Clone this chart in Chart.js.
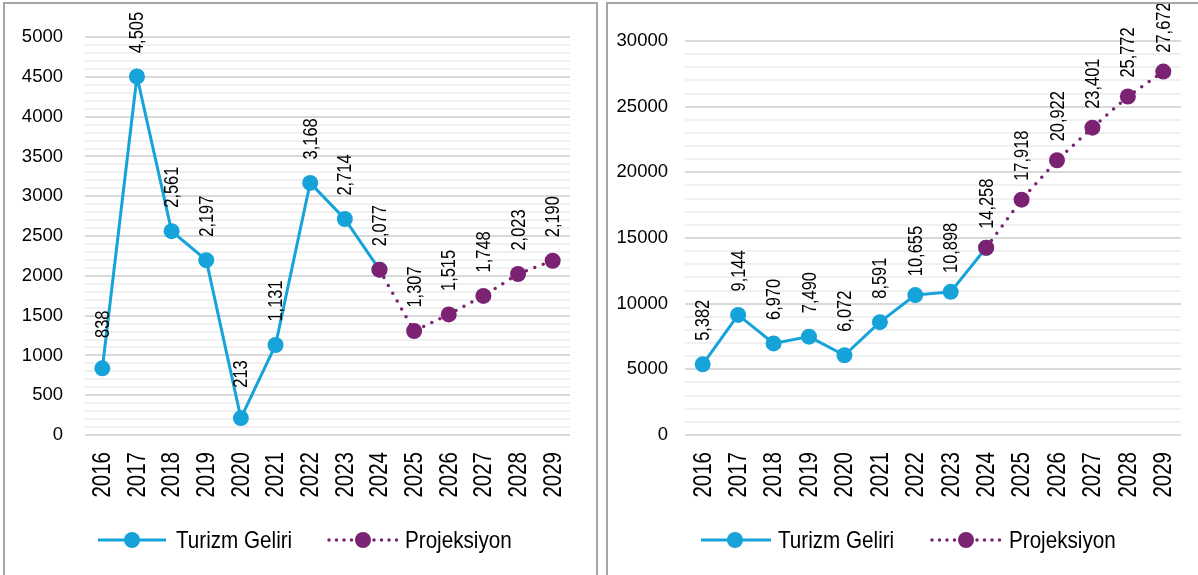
<!DOCTYPE html>
<html>
<head>
<meta charset="utf-8">
<script src="https://cdn.jsdelivr.net/npm/chart.js@4.4.1/dist/chart.umd.min.js"></script>
<style>
  html,body{margin:0;padding:0;background:#fff;width:1198px;height:575px;overflow:hidden;position:relative;}
  .panel{position:absolute;border:2px solid #a6a6a6;box-sizing:border-box;}
  .cv{position:absolute;}
  .lg{position:absolute;font-family:"Liberation Sans",Arial,sans-serif;font-size:24px;color:#000;line-height:24px;white-space:nowrap;transform:scaleX(0.86);transform-origin:0 50%;}
  svg.sym{position:absolute;overflow:visible;}
</style>
</head>
<body>
<div class="panel" style="left:3px;top:2px;width:595px;height:600px;"></div>
<div class="panel" style="left:606px;top:2px;width:620px;height:600px;"></div>
<div class="cv" style="left:5px;top:4px;width:590px;height:500px;"><canvas id="c1" width="590" height="500"></canvas></div>
<div class="cv" style="left:610px;top:4px;width:588px;height:500px;"><canvas id="c2" width="588" height="500"></canvas></div>

<svg class="sym" style="left:0;top:0" width="1198" height="575">
  <line x1="98" y1="540" x2="166" y2="540" stroke="#16a3d9" stroke-width="3"/>
  <circle cx="132" cy="540" r="8" fill="#16a3d9"/>
  <line x1="329" y1="540" x2="397" y2="540" stroke="#7b2372" stroke-width="3.5" stroke-linecap="round" stroke-dasharray="0 7.5"/>
  <circle cx="363" cy="540" r="8" fill="#7b2372"/>
  <line x1="701" y1="540" x2="771" y2="540" stroke="#16a3d9" stroke-width="3"/>
  <circle cx="735" cy="540" r="8" fill="#16a3d9"/>
  <line x1="932" y1="540" x2="1000" y2="540" stroke="#7b2372" stroke-width="3.5" stroke-linecap="round" stroke-dasharray="0 7.5"/>
  <circle cx="966" cy="540" r="8" fill="#7b2372"/>
</svg>
<div class="lg" style="left:176px;top:528px;">Turizm Geliri</div>
<div class="lg" style="left:405px;top:528px;">Projeksiyon</div>
<div class="lg" style="left:778px;top:528px;">Turizm Geliri</div>
<div class="lg" style="left:1009px;top:528px;">Projeksiyon</div>

<script>
const years = ['2016','2017','2018','2019','2020','2021','2022','2023','2024','2025','2026','2027','2028','2029'];
const seriesNames = ['Turizm Geliri','Projeksiyon'];

const leftIncome     = [838, 4505, 2561, 2197, 213, 1131, 3168, 2714, 2077, null, null, null, null, null];
const leftProjection = [null, null, null, null, null, null, null, null, 2077, 1307, 1515, 1748, 2023, 2190];

const rightIncome     = [5382, 9144, 6970, 7490, 6072, 8591, 10655, 10898, 14258, null, null, null, null, null];
const rightProjection = [null, null, null, null, null, null, null, null, 14258, 17918, 20922, 23401, 25772, 27672];

const leftAxis  = {max: 5000, minorStep: 100, majorStep: 500};
const rightAxis = {max: 30000, minorStep: 1000, majorStep: 5000};

const BLUE = '#16a3d9', PURPLE = '#7b2372';
const SANS = '"Liberation Sans",Arial,sans-serif';
const NARROW_X = 0.82;

function narrowText(ctx, text, x, y, size, align) {
  // rotated text (reading upward), horizontally condensed along the text direction
  ctx.save();
  ctx.translate(x, y);
  ctx.rotate(-Math.PI / 2);
  ctx.scale(NARROW_X, 1);
  ctx.font = size + 'px ' + SANS;
  ctx.textAlign = align;
  ctx.textBaseline = 'middle';
  ctx.fillText(text, 0, 0);
  ctx.restore();
}

const labelPlugin = {
  id: 'rotLabels',
  afterDatasetsDraw(chart) {
    const ctx = chart.ctx;
    ctx.save();
    ctx.fillStyle = '#000';
    chart.data.datasets.forEach((ds, di) => {
      const meta = chart.getDatasetMeta(di);
      meta.data.forEach((pt, i) => {
        const v = ds.data[i];
        if (v === null || v === undefined) return;
        if (ds.skipLabel && ds.skipLabel.includes(i)) return;
        narrowText(ctx, v.toLocaleString('en-US'), pt.x + 1, pt.y - 44, 20, 'center');
      });
    });
    // category labels
    const xs = chart.scales.x;
    chart.data.labels.forEach((lab, i) => {
      const px = xs.getPixelForTick(i);
      narrowText(ctx, lab, px + 1, chart.chartArea.bottom + 17, 25, 'right');
    });
    ctx.restore();
  }
};

function makeChart(id, income, projection, axis, yWidth, padRight, padTop, tickPad) {
  return new Chart(document.getElementById(id), {
    type: 'line',
    data: {
      labels: years,
      datasets: [
        {label: seriesNames[0], data: income, borderColor: BLUE, backgroundColor: BLUE,
         borderWidth: 3, pointRadius: 8, pointHoverRadius: 8, pointBackgroundColor: BLUE, pointBorderWidth: 0,
         tension: 0, order: 1, skipLabel: [8]},
        {label: seriesNames[1], data: projection, borderColor: PURPLE, backgroundColor: PURPLE,
         borderWidth: 3.5, borderDash: [0, 9], borderCapStyle: 'round',
         pointRadius: 8, pointHoverRadius: 8, pointBackgroundColor: PURPLE, pointBorderWidth: 0,
         tension: 0, order: 0}
      ]
    },
    options: {
      responsive: false, animation: false, devicePixelRatio: 1,
      layout: {padding: {left: 0, right: padRight, top: padTop, bottom: 0}},
      plugins: {legend: {display: false}, tooltip: {enabled: false}},
      scales: {
        x: {
          offset: true,
          grid: {display: false, offset: true}, border: {display: false},
          ticks: {display: false, autoSkip: false},
          afterFit(s) { s.height = 69; }
        },
        y: {
          min: 0, max: axis.max,
          border: {display: false},
          grid: {drawTicks: false, lineWidth: 2,
                 color: c => (c.tick.value % axis.majorStep === 0 ? '#d9d9d9' : '#f0f0f0')},
          ticks: {stepSize: axis.minorStep, autoSkip: false, color: '#000', padding: tickPad,
                  font: {family: SANS, size: 18.5},
                  callback: v => (v % axis.majorStep === 0 ? String(v) : '')},
          afterFit(s) { s.width = yWidth; }
        }
      }
    },
    plugins: [labelPlugin]
  });
}

makeChart('c1', leftIncome, leftProjection, leftAxis, 80, 25, 32, 22);
makeChart('c2', rightIncome, rightProjection, rightAxis, 75, 17, 37, 17);
</script>
</body>
</html>
